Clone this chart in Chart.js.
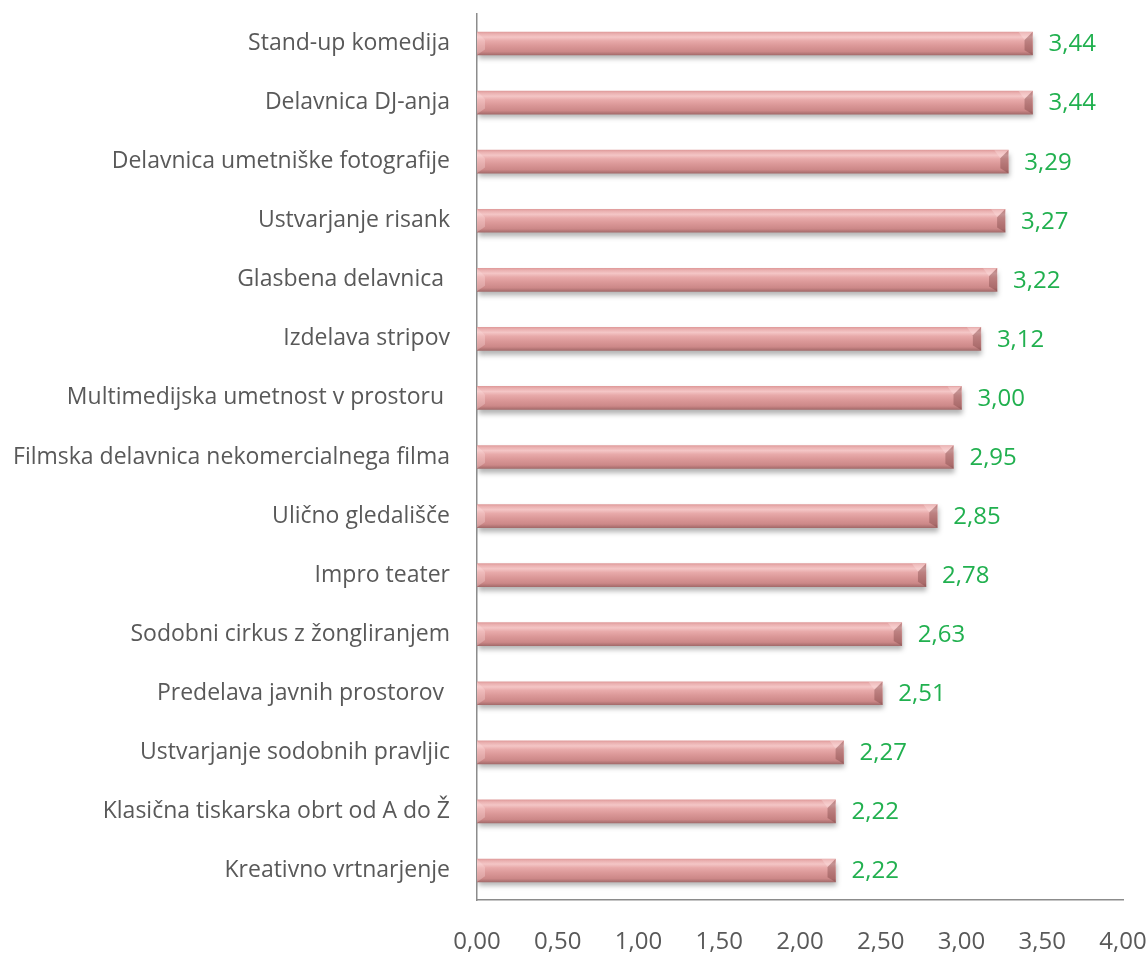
<!DOCTYPE html>
<html><head><meta charset="utf-8">
<script src="https://cdn.jsdelivr.net/npm/chart.js@4"></script>
<style>html,body{margin:0;padding:0;background:#fff}#wrap{width:1148px;height:955px}</style>
</head><body><div id="wrap"><canvas id="c" width="1148" height="955"></canvas></div>
<script>
const categories = ["Stand-up komedija","Delavnica DJ-anja","Delavnica umetniške fotografije","Ustvarjanje risank","Glasbena delavnica ","Izdelava stripov","Multimedijska umetnost v prostoru ","Filmska delavnica nekomercialnega filma","Ulično gledališče","Impro teater","Sodobni cirkus z žongliranjem","Predelava javnih prostorov ","Ustvarjanje sodobnih pravljic","Klasična tiskarska obrt od A do Ž","Kreativno vrtnarjenje"];
const values = [3.44,3.44,3.29,3.27,3.22,3.12,3.00,2.95,2.85,2.78,2.63,2.51,2.27,2.22,2.22];
const xTicks = [0,0.5,1,1.5,2,2.5,3,3.5,4];

const fmt = v => v.toFixed(2).replace('.', ',');
const BAR_H = 23;
const FONT = '"Open Sans", Lato, sans-serif';

function barGradient(ctx){
  const chart = ctx.chart;
  const y = chart.scales && chart.scales.y;
  if (!y || ctx.dataIndex === undefined) return '#d99494';
  const cy = y.getPixelForValue(ctx.dataIndex);
  if (!isFinite(cy)) return '#d99494';
  const g = chart.ctx.createLinearGradient(0, cy - BAR_H/2, 0, cy + BAR_H/2);
  g.addColorStop(0, '#e09c9c');
  g.addColorStop(0.08, '#eab0b0');
  g.addColorStop(0.22, '#f4c6c6');
  g.addColorStop(0.38, '#e8aaaa');
  g.addColorStop(0.6, '#db9898');
  g.addColorStop(0.85, '#cc8888');
  g.addColorStop(1, '#a56b6b');
  return g;
}

const shadowPlugin = {
  id: 'shadow',
  beforeDatasetDraw(chart){
    const c = chart.ctx; c.save();
    c.shadowColor = 'rgba(0,0,0,0.3)'; c.shadowOffsetY = 4; c.shadowOffsetX = 1; c.shadowBlur = 5;
  },
  afterDatasetDraw(chart){ chart.ctx.restore(); }
};

const bevelPlugin = {
  id: 'bevel',
  afterDatasetsDraw(chart){
    const c = chart.ctx;
    const meta = chart.getDatasetMeta(0);
    c.save();
    meta.data.forEach((el) => {
      const h = el.height, t = el.y - h/2, b = el.y + h/2, l = el.base, r = el.x;
      const d = 8;
      c.fillStyle = 'rgba(255,225,225,0.3)';
      c.beginPath(); c.moveTo(l, t); c.lineTo(l + d, t + d); c.lineTo(l + d, b - d*0.7); c.lineTo(l, b); c.closePath(); c.fill();
      c.fillStyle = 'rgba(255,225,225,0.35)';
      c.beginPath(); c.moveTo(r - d - 6, t); c.lineTo(r, t); c.lineTo(r - d, t + d); c.closePath(); c.fill();
      c.fillStyle = 'rgba(110,55,55,0.35)';
      c.beginPath(); c.moveTo(r, t); c.lineTo(r - d, t + d); c.lineTo(r - d, b - d*0.6); c.lineTo(r, b); c.closePath(); c.fill();
    });
    c.restore();
  }
};

const labelPlugin = {
  id: 'vals',
  afterDatasetsDraw(chart){
    const c = chart.ctx;
    const meta = chart.getDatasetMeta(0);
    c.save();
    c.font = '24px ' + FONT;
    c.fillStyle = '#21b04f';
    c.textAlign = 'left'; c.textBaseline = 'middle';
    meta.data.forEach((el, i) => {
      c.fillText(fmt(values[i]), el.x + 16, el.y + 1);
    });
    c.restore();
  }
};

new Chart(document.getElementById('c'), {
  type: 'bar',
  data: {
    labels: categories,
    datasets: [{
      data: values,
      backgroundColor: barGradient,
      borderWidth: 0,
      barThickness: BAR_H
    }]
  },
  options: {
    indexAxis: 'y',
    responsive: false,
    animation: false,
    layout: { padding: { top: 14, right: 25, left: 0, bottom: 0 } },
    plugins: { legend: { display: false }, tooltip: { enabled: false } },
    scales: {
      x: {
        min: 0, max: 4,
        afterBuildTicks: s => { s.ticks = xTicks.map(v => ({ value: v })); },
        afterFit: s => { s.height = 55; s.paddingLeft = 0; s.paddingRight = 0; },
        grid: { display: false, drawTicks: false },
        border: { display: true, color: '#8c8c8c', width: 1.5 },
        ticks: { color: '#595959', font: { family: FONT, size: 24 }, padding: 28, callback: v => fmt(v), maxRotation: 0, autoSkip: false }
      },
      y: {
        afterFit: s => { s.width = 477; s.paddingTop = 0; s.paddingBottom = 0; },
        grid: { display: false, drawTicks: false },
        border: { display: true, color: '#8c8c8c', width: 1.5 },
        ticks: { color: '#595959', font: { family: FONT, size: 23 }, padding: 27, autoSkip: false }
      }
    }
  },
  plugins: [shadowPlugin, bevelPlugin, labelPlugin]
});
</script></body></html>
